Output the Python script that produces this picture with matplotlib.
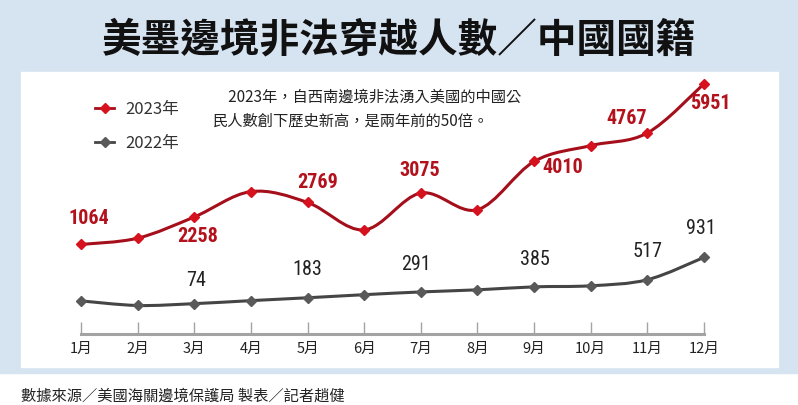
import numpy as np
import matplotlib
matplotlib.use('Agg')
import matplotlib.pyplot as plt
from matplotlib import font_manager as fm
from matplotlib.path import Path
from matplotlib.patches import PathPatch, Rectangle
from matplotlib.lines import Line2D

plt.rcParams['font.family'] = ['Noto Sans CJK TC', 'DejaVu Sans']

# data (unlabelled months estimated)
months = ['1月', '2月', '3月', '4月', '5月', '6月', '7月', '8月', '9月', '10月', '11月', '12月']
y2023 = [1064, 1380, 2258, 3120, 2769, 1750, 3075, 2520, 4010, 4440, 4767, 5951]
y2022 = [125, 40, 74, 130, 183, 240, 291, 330, 385, 405, 517, 931]
shown2023 = [0, 2, 4, 6, 8, 10, 11]
shown2022 = [2, 4, 6, 8, 10, 11]

title = '美墨邊境非法穿越人數／中國國籍'
note = '　2023年，自西南邊境非法湧入美國的中國公\n民人數創下歷史新高，是兩年前的50倍。'
source = '數據來源／美國海關邊境保護局 製表／記者趙健'

W, H = 798, 405
RED_LINE, RED_MK, RED_TXT = '#a50f1b', '#d7121f', '#b3121d'
GRY_LINE, GRY_MK = '#454545', '#595959'

# pick a condensed sans for the numbers if one is installed
narrow_names = {f.name for f in fm.fontManager.ttflist
                if f.stretch in ('condensed', 'semi-condensed', 'extra-condensed')
                or 'Narrow' in f.name or 'Condensed' in f.name}
NARROW = next((n for n in ['Liberation Sans Narrow', 'Roboto Condensed', 'Open Sans Condensed',
                           'DejaVu Sans', 'Roboto', 'Open Sans', 'Noto Sans']
               if n in narrow_names), 'Roboto')

# label offsets in pixels (x, y up)
off2023 = [(8, 26), (3, -20), (10, 20), (-1, 23), (29, -6), (-21, 14), (6, -20)]
off2022 = [(2, 23), (0, 28), (-5, 27), (1, 27), (0, 28), (-3, 29)]


def fwd(v):
    v = np.asarray(v, float)
    return np.sign(v) * np.abs(v) ** 1.5


def inv(v):
    v = np.asarray(v, float)
    return np.sign(v) * np.abs(v) ** (2 / 3)


def smooth_path(xs, ys, f=lambda v: np.asarray(v, float), fi=lambda v: v):
    # excel-like smoothing: cubic bezier segments through every point
    pts = np.column_stack([np.asarray(xs, float), f(ys)])
    n = len(pts)
    verts = [pts[0]]
    codes = [Path.MOVETO]
    for i in range(n - 1):
        p0, p1 = pts[max(i - 1, 0)], pts[i]
        p2, p3 = pts[i + 1], pts[min(i + 2, n - 1)]
        verts += [p1 + (p2 - p0) / 6, p2 - (p3 - p1) / 6, p2]
        codes += [Path.CURVE4] * 3
    verts = np.array(verts)
    verts[:, 1] = fi(verts[:, 1])
    return Path(verts, codes)


fig = plt.figure(figsize=(W / 100, H / 100), dpi=100)
fig.add_artist(Rectangle((0, 32 / H), 1, 1, transform=fig.transFigure,
                         color='#d6e3f1', zorder=0))
fig.add_artist(Rectangle((21 / W, (H - 367) / H), 757 / W, 295 / H,
                         transform=fig.transFigure, color='white', zorder=0))

x = np.arange(1, 13)

ax = fig.add_axes([81 / W, (H - 334) / H, 623 / W, 259 / H])
ax.set_facecolor('none')
ax.set_yscale('function', functions=(fwd, inv))
ax.set_xlim(1, 12)
ax.set_ylim(-3441, 6150)
for s in ['top', 'left', 'right']:
    ax.spines[s].set_visible(False)
ax.spines['bottom'].set_color('#a3a3a3')
ax.spines['bottom'].set_linewidth(2.2)
ax.set_xticks(x, months)
ax.set_yticks([])
ax.tick_params(axis='x', direction='in', length=8.6, width=1, color='#a3a3a3',
               labelsize=10.5, pad=6, labelcolor='#222222')

ax2 = ax.twinx()
ax2.set_ylim(-488, 4308)
ax2.set_yticks([])
for s in ax2.spines.values():
    s.set_visible(False)

# 2023
ax.add_patch(PathPatch(smooth_path(x, y2023, fwd, inv), fill=False, edgecolor=RED_LINE,
                       lw=2.2, transform=ax.transData, clip_on=False, zorder=3))
ax.plot(x, y2023, ls='none', marker='D', ms=5, color=RED_MK, clip_on=False, zorder=4)
for i, (dx, dy) in zip(shown2023, off2023):
    ax.annotate(str(y2023[i]), (x[i], y2023[i]), xytext=(dx, dy), textcoords='offset pixels',
                ha='center', va='center', fontsize=14.5, fontweight='bold',
                fontstretch='condensed', color=RED_TXT, family=[NARROW, 'DejaVu Sans'])

# 2022
ax2.add_patch(PathPatch(smooth_path(x, y2022), fill=False, edgecolor=GRY_LINE,
                        lw=2.2, transform=ax2.transData, clip_on=False, zorder=3))
ax2.plot(x, y2022, ls='none', marker='D', ms=5, color=GRY_MK, clip_on=False, zorder=4)
for i, (dx, dy) in zip(shown2022, off2022):
    ax2.annotate(str(y2022[i]), (x[i], y2022[i]), xytext=(dx, dy), textcoords='offset pixels',
                 ha='center', va='center', fontsize=14.5, fontstretch='condensed',
                 color='#222222', family=[NARROW, 'DejaVu Sans'])

handles = [Line2D([], [], color=RED_LINE, lw=2, marker='D', ms=5, mfc=RED_MK, mec=RED_MK),
           Line2D([], [], color=GRY_LINE, lw=2, marker='D', ms=5, mfc=GRY_MK, mec=GRY_MK)]
fig.legend(handles, ['2023年', '2022年'], loc='upper left', bbox_to_anchor=(95 / W, 1 - 101 / H),
           frameon=False, borderpad=0, borderaxespad=0, handlelength=1.15,
           handletextpad=0.65, labelspacing=1.0, prop={'size': 12}, labelcolor='#333333')

fig.text(0.5, 1 - 40 / H, title, ha='center', va='center', fontsize=28.5,
         fontweight='bold', color='#111111')
fig.text(213 / W, 1 - 89 / H, note, ha='left', va='top', fontsize=11,
         linespacing=1.5, color='#222222')
fig.text(21 / W, 9 / H, source, ha='left', va='center', fontsize=11, color='#222222')

fig.savefig('out.png', dpi=100)
